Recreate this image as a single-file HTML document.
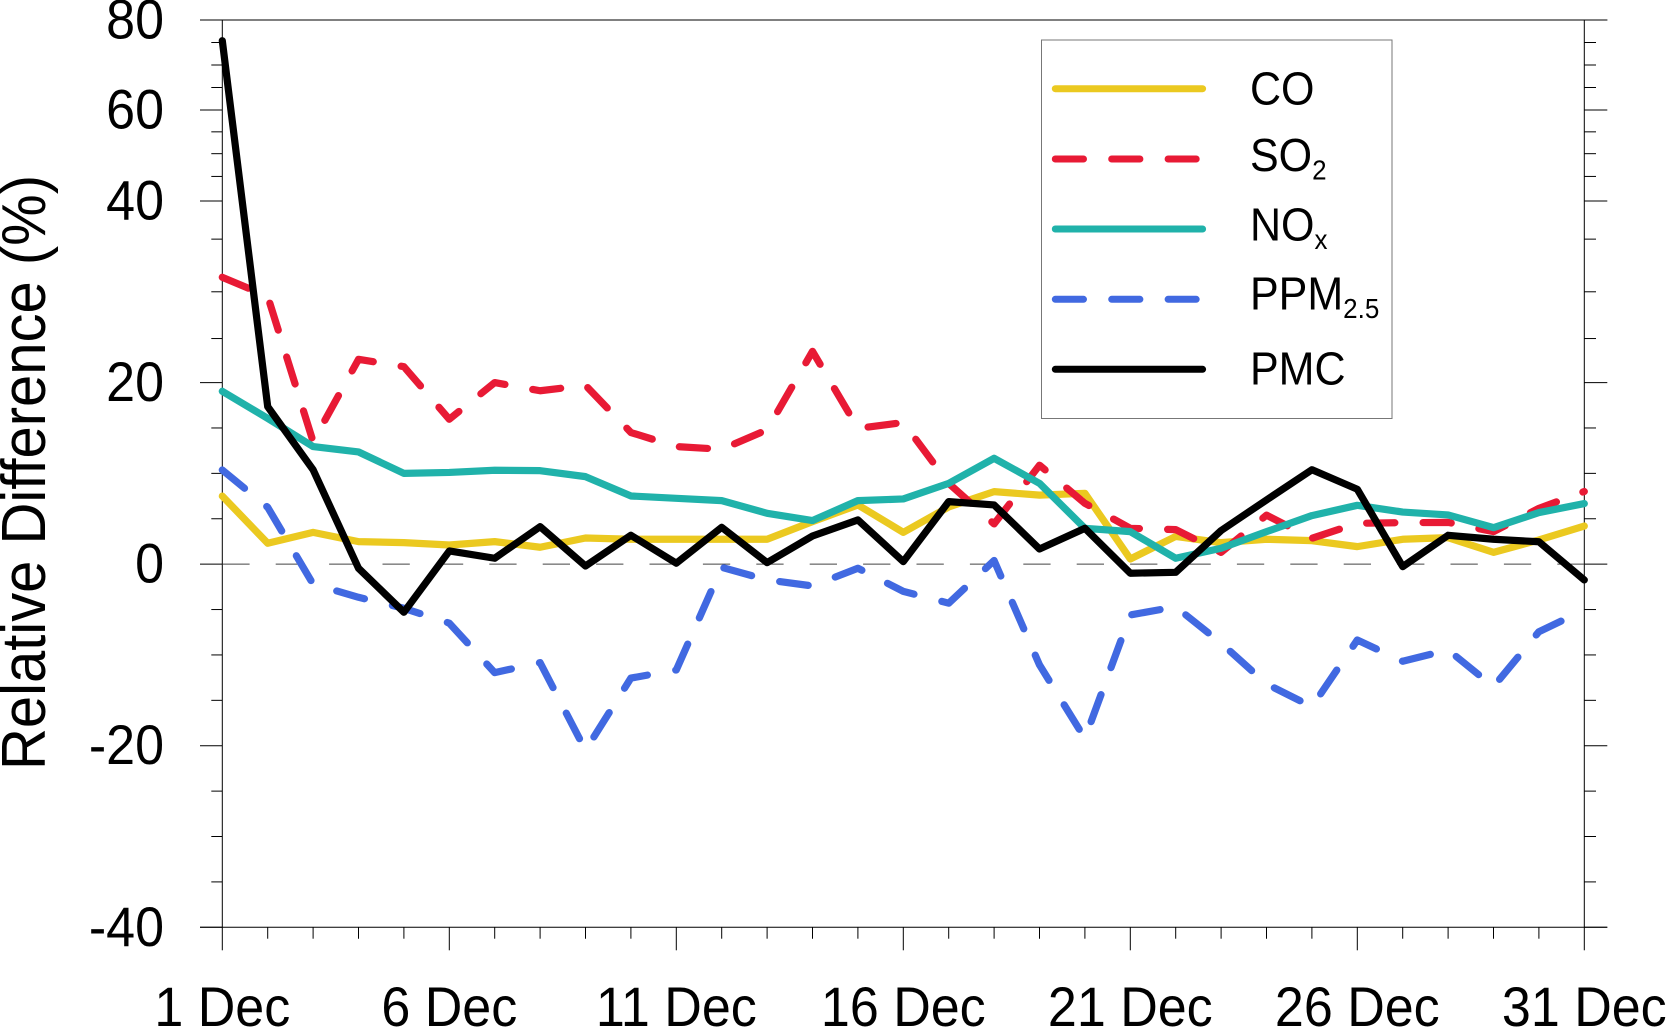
<!DOCTYPE html>
<html>
<head>
<meta charset="utf-8">
<title>Relative Difference Chart</title>
<style>
html,body{margin:0;padding:0;background:#fff;width:1666px;height:1028px;overflow:hidden}
svg{display:block}
text{font-family:"Liberation Sans",sans-serif;fill:#000}
</style>
</head>
<body>
<svg id="chart" width="1666" height="1028" viewBox="0 0 1666 1028" xmlns="http://www.w3.org/2000/svg">
  <g id="axes"></g>
  <text transform="translate(45,472.5) rotate(-90) scale(1,1.07)" font-size="58" text-anchor="middle">Relative Difference (%)</text>
  <g id="series"></g>
  <g>
    <rect x="1041.5" y="40" width="350.5" height="378.5" fill="#fff" stroke="#777" stroke-width="1"/>
    <g id="legend-lines"></g>
    <text transform="translate(1250,104.5) scale(1,1.08)" font-size="43">CO</text>
    <text transform="translate(1250,171) scale(1,1.08)" font-size="43">SO<tspan font-size="26" dy="8">2</tspan></text>
    <text transform="translate(1250,240.5) scale(1,1.08)" font-size="43">NO<tspan font-size="26" dy="8">x</tspan></text>
    <text transform="translate(1250,309.5) scale(1,1.08)" font-size="43">PPM<tspan font-size="26" dy="8">2.5</tspan></text>
    <text transform="translate(1250,384.5) scale(1,1.08)" font-size="43">PMC</text>
  </g>
</svg>
<script>
const days = [1,2,3,4,5,6,7,8,9,10,11,12,13,14,15,16,17,18,19,20,21,22,23,24,25,26,27,28,29,30,31];
const xTickDays = [1,6,11,16,21,26,31];
const xTickLabels = ["1 Dec","6 Dec","11 Dec","16 Dec","21 Dec","26 Dec","31 Dec"];
const yMajorTicks = [80,60,40,20,0,-20,-40];
const yMinorTicks = [75,70,65,55.2,50.4,45.4,35.8,30,24.85,15,10,5,-5,-10,-15,-25,-30,-35];
const coValues = [7.5,2.3,3.5,2.48,2.37,2.11,2.48,1.86,2.88,2.74,2.74,2.74,2.74,4.68,6.52,3.5,6.3,7.99,7.6,7.8,0.57,3.05,2.37,2.74,2.59,1.93,2.74,2.92,1.3,2.67,4.2];
const so2Values = [31.6,29.5,13.5,22.56,21.75,15.96,20,19.1,19.7,14.5,12.95,12.65,14.8,23.44,14.96,15.6,8.9,4.43,10.9,6.7,3.95,3.8,1.3,5.4,2.85,4.5,4.57,4.6,3.58,6.15,8];
const noxValues = [19.04,16.06,12.95,12.36,10,10.1,10.34,10.3,9.64,7.51,7.25,7,5.6,4.8,7,7.18,8.9,11.66,8.9,3.95,3.58,0.65,1.75,3.58,5.35,6.48,5.74,5.42,4.02,5.68,6.67];
const ppmValues = [10.37,6.26,-2.2,-3.65,-4.86,-6.5,-11.95,-10.85,-20.5,-12.55,-11.65,-0.35,-1.74,-2.4,-0.45,-3,-4.3,0.4,-11.1,-19.2,-5.6,-4.7,-8.7,-13.2,-15.7,-8.35,-10.7,-9.45,-13.5,-7.44,-5.05];
const pmcValues = [75.4,17.35,10.4,-0.45,-5.3,1.45,0.65,4.13,-0.2,3.18,0.1,4.06,0.17,3.1,4.87,0.28,6.89,6.52,1.67,3.95,-1,-0.9,3.7,7.07,10.4,8.25,-0.27,3.18,2.74,2.47,-1.74];

const NS = 'http://www.w3.org/2000/svg';
const LEFT = 222.3, RIGHT = 1584.3, TOP = 20, BOTTOM = 927.3;
const DASH_PERIOD = 56.8;
function xScale(day){ return LEFT + (day - 1) * (RIGHT - LEFT) / 30; }
function yScale(v){
  if (v <= 40) return BOTTOM - (v + 40) * (BOTTOM - 201) / 80;
  if (v <= 60) return 201 - (v - 40) * (201 - 110) / 20;
  return 110 - (v - 60) * (110 - TOP) / 20;
}
function make(tag, attrs, parent){
  const el = document.createElementNS(NS, tag);
  for (const k in attrs) el.setAttribute(k, attrs[k]);
  parent.appendChild(el);
  return el;
}
const axes = document.getElementById('axes');
const seriesGroup = document.getElementById('series');
const legendLines = document.getElementById('legend-lines');

function axisLine(x1,y1,x2,y2,name,w){
  const l = make('line',{x1:x1,y1:y1,x2:x2,y2:y2,stroke:'#000','stroke-width':w||1},axes);
  
  
  return l;
}
axisLine(200,TOP,1607.3,TOP,'top-axis-line');
axisLine(200,BOTTOM,1607.3,BOTTOM,'bottom-axis-line');
axisLine(LEFT,TOP,LEFT,BOTTOM,'left-axis-line');
axisLine(RIGHT,TOP,RIGHT,BOTTOM,'right-axis-line');

const zeroLine = make('line',{x1:LEFT,y1:yScale(0),x2:RIGHT,y2:yScale(0),stroke:'#444','stroke-width':1,'stroke-dasharray':'27.3 26.1'},axes);



yMajorTicks.forEach(function(v){
  const y = yScale(v);
  axisLine(200,y,LEFT,y,'y-major-tick-left');
  axisLine(RIGHT,y,1607.3,y,'y-major-tick-right');
  const t = make('text',{transform:'translate(164,'+(y+18.5)+') scale(1,1.07)','font-size':52,'text-anchor':'end'},axes);
  
  
  t.textContent = String(v);
});
yMinorTicks.forEach(function(v){
  const y = yScale(v);
  axisLine(211.3,y,LEFT,y,'y-minor-tick-left');
  axisLine(RIGHT,y,1596,y,'y-minor-tick-right');
});
days.forEach(function(d){
  const x = xScale(d);
  if (xTickDays.indexOf(d) >= 0) {
    axisLine(x,BOTTOM,x,950.3,'x-major-tick');
  } else {
    axisLine(x,BOTTOM,x,938.7,'x-minor-tick');
  }
});
xTickDays.forEach(function(d,i){
  const t = make('text',{transform:'translate('+xScale(d)+',1026) scale(1,1.07)','font-size':52,'text-anchor':'middle'},axes);
  
  
  t.textContent = xTickLabels[i];
});

function drawSeries(values,color,endSlack,name){
  const pts = values.map(function(v,i){ return xScale(days[i]).toFixed(2)+','+yScale(v).toFixed(2); }).join(' ');
  const attrs = {points:pts,fill:'none',stroke:color,'stroke-width':7.2,'stroke-linecap':'round','stroke-linejoin':'round'};
  const p = make('polyline',attrs,seriesGroup);
  
  
  if (endSlack !== null) {
    // fit the dash period so the pattern lands at the series end the way the reference does
    const len = p.getTotalLength();
    const half = (len + endSlack) / Math.round(len / DASH_PERIOD) / 2;
    p.setAttribute('stroke-dasharray', half.toFixed(3) + ' ' + half.toFixed(3));
  }
}
function drawLegendLine(y,color,dash,name){
  const attrs = {x1:1055.3,y1:y,x2:dash?1196.2:1202.6,y2:y,stroke:color,'stroke-width':7,'stroke-linecap':'round'};
  if (dash) attrs['stroke-dasharray'] = '28.2 28.2';
  const l = make('line',attrs,legendLines);
  
  
}
drawSeries(coValues,'#ebc920',null,'series-co');
drawSeries(so2Values,'#e81a35',-1.5,'series-so2');
drawSeries(noxValues,'#20b2aa',null,'series-nox');
drawSeries(ppmValues,'#4169e1',3,'series-ppm25');
drawSeries(pmcValues,'#000000',null,'series-pmc');

drawLegendLine(88.7,'#ebc920',false,'legend-line-co');
drawLegendLine(159,'#e81a35',true,'legend-line-so2');
drawLegendLine(229,'#20b2aa',false,'legend-line-nox');
drawLegendLine(299.3,'#4169e1',true,'legend-line-ppm25');
drawLegendLine(369.3,'#000000',false,'legend-line-pmc');
</script>
</body>
</html>
